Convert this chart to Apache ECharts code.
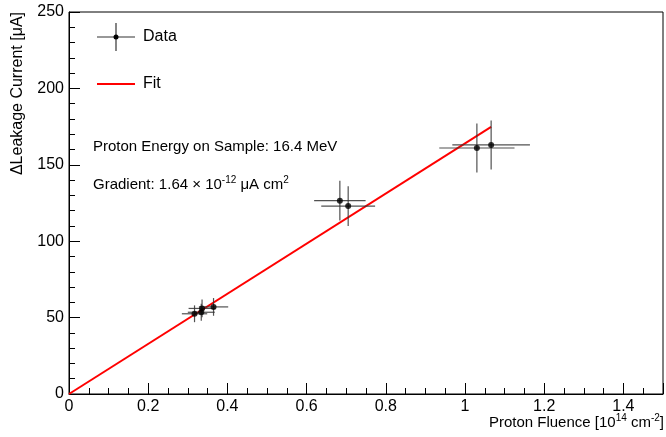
<!DOCTYPE html>
<html><head><meta charset="utf-8">
<script src="https://cdn.jsdelivr.net/npm/echarts@6/dist/echarts.min.js"></script>
<style>html,body{margin:0;padding:0;background:#fff}#c{width:666px;height:437px}</style>
</head><body><div id="c"></div>
<script>
const fluence = [0.317, 0.334, 0.336, 0.365, 0.684, 0.705, 1.030, 1.066];
const current = [52.5, 53.5, 56.0, 57.0, 126.5, 123.0, 161.0, 163.0];
const fluenceErr = [0.032, 0.034, 0.034, 0.037, 0.065, 0.068, 0.095, 0.098];
const currentErr = [5.5, 5.5, 5.8, 5.8, 13, 13, 16, 16];
const fitSlope = 164;
const fitRange = [0, 1.066];
const xTicks = [0, 0.2, 0.4, 0.6, 0.8, 1, 1.2, 1.4];
const yTicks = [0, 50, 100, 150, 200, 250];

const FONT = 'Liberation Sans, Arial, sans-serif';
const chart = echarts.init(document.getElementById('c'), null, {renderer: 'canvas'});
const pts = fluence.map((x, i) => [x, current[i], fluenceErr[i], currentErr[i]]);
const supRich = {
  n: {fontFamily: FONT, fontSize: 15, verticalAlign: 'bottom', lineHeight: 17},
  s: {fontFamily: FONT, fontSize: 10, verticalAlign: 'top', lineHeight: 17}
};

chart.setOption({
  animation: false,
  grid: {left: 69, right: 2, top: 12, bottom: 43, show: true, borderColor: '#000', borderWidth: 1},
  xAxis: {
    type: 'value', min: 0, max: 1.5, interval: 0.2,
    axisLine: {show: true, onZero: false, lineStyle: {color: '#000'}},
    axisTick: {show: true, inside: true, length: 11, lineStyle: {color: '#000'}},
    minorTick: {show: true, splitNumber: 4, length: 6, lineStyle: {color: '#000'}},
    splitLine: {show: false},
    axisLabel: {color: '#000', fontFamily: FONT, fontSize: 16, margin: 5,
      formatter: v => xTicks.includes(Math.round(v*10)/10) ? String(Math.round(v*10)/10) : ''}
  },
  yAxis: {
    type: 'value', min: 0, max: 250, interval: 50,
    axisLine: {show: true, lineStyle: {color: '#000'}},
    axisTick: {show: true, inside: true, length: 11, lineStyle: {color: '#000'}},
    minorTick: {show: true, splitNumber: 5, length: 6, lineStyle: {color: '#000'}},
    splitLine: {show: false},
    axisLabel: {color: '#000', fontFamily: FONT, fontSize: 16, margin: 5,
      formatter: v => yTicks.includes(v) ? String(v) : ''}
  },
  series: [
    {
      type: 'line', data: fitRange.map(x => [x, fitSlope * x]),
      showSymbol: false, lineStyle: {color: '#ff0000', width: 2}, z: 3
    },
    {
      type: 'custom', data: pts, z: 4,
      renderItem: (params, api) => {
        const x = api.value(0), y = api.value(1), ex = api.value(2), ey = api.value(3);
        const l = api.coord([x - ex, y]), r = api.coord([x + ex, y]);
        const t = api.coord([x, y + ey]), b = api.coord([x, y - ey]);
        const st = {stroke: '#333', lineWidth: 1.2, opacity: 0.85};
        return {type: 'group', children: [
          {type: 'line', shape: {x1: l[0], y1: l[1], x2: r[0], y2: r[1]}, style: st},
          {type: 'line', shape: {x1: t[0], y1: t[1], x2: b[0], y2: b[1]}, style: st}
        ]};
      }
    },
    {
      type: 'scatter', data: pts.map(p => [p[0], p[1]]), symbol: 'circle', symbolSize: 6,
      itemStyle: {color: '#000'}, z: 5
    }
  ],
  graphic: [
    {type: 'line', shape: {x1: 97, y1: 37, x2: 135, y2: 37}, style: {stroke: '#333', lineWidth: 1.2}},
    {type: 'line', shape: {x1: 116, y1: 23, x2: 116, y2: 51}, style: {stroke: '#333', lineWidth: 1.2}},
    {type: 'circle', shape: {cx: 116, cy: 37, r: 2.5}, style: {fill: '#000'}},
    {type: 'text', left: 143, top: 29, style: {text: 'Data', font: '16px ' + FONT, fill: '#000'}},
    {type: 'line', shape: {x1: 97, y1: 84, x2: 135, y2: 84}, style: {stroke: '#ff0000', lineWidth: 2}},
    {type: 'text', left: 143, top: 76, style: {text: 'Fit', font: '16px ' + FONT, fill: '#000'}},
    {type: 'text', left: 93, top: 139, style: {text: 'Proton Energy on Sample: 16.4 MeV', font: '15px ' + FONT, fill: '#000'}},
    {type: 'text', left: 93, top: 175, style: {
      text: '{n|Gradient: 1.64 × 10}{s|-12}{n| μA cm}{s|2}', fill: '#000', rich: supRich}},
    {type: 'text', right: 2, top: 413, style: {
      text: '{n|Proton Fluence [10}{s|14}{n| cm}{s|-2}{n|]}', fill: '#000', rich: supRich}},
    {type: 'text', x: 18, y: 12, rotation: Math.PI/2, style: {
      text: 'ΔLeakage Current [μA]', font: '16px ' + FONT, fill: '#000', align: 'right', verticalAlign: 'middle'}}
  ]
});
</script></body></html>
